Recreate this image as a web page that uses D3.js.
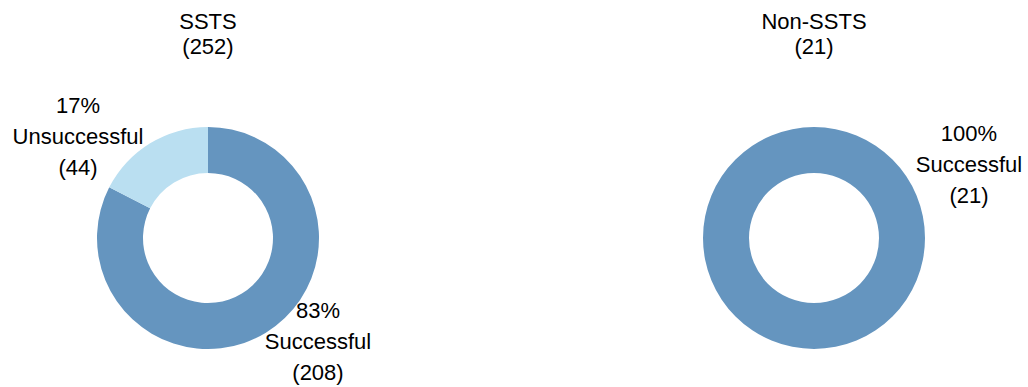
<!DOCTYPE html>
<html>
<head>
<meta charset="utf-8">
<script src="https://cdn.jsdelivr.net/npm/d3@7"></script>
<style>
  html, body { margin: 0; padding: 0; background: #fff; }
  svg text { font-family: "Liberation Sans", Arial, sans-serif; fill: #000; }
</style>
</head>
<body>
<svg id="chart" width="1028" height="387"></svg>
<script>
// Outcome counts per group
const groups = ["SSTS", "Non-SSTS"];
const groupTotals = [252, 21];
const outcomes = ["Successful", "Unsuccessful"];
const successfulCounts = [208, 21];
const unsuccessfulCounts = [44, 0];
const percentLabels = [["83%", "17%"], ["100%", null]];

const colors = { Successful: "#6595bf", Unsuccessful: "#badff1" };

const svg = d3.select("#chart");
const W = 1028;

// Donut layout
const centers = [{ x: 208, y: 238 }, { x: 814, y: 238 }];
const outerR = 111;
const innerR = 65;
const fontSize = 22;

// Label positions for each slice (relative to donut center)
const labelPos = [
  { Successful: { dx: 110, dy: 80 }, Unsuccessful: { dx: -130, dy: -125 } },
  { Successful: { dx: 155, dy: -97 } }
];

const pie = d3.pie()
  .value(d => d.value)
  .sort(null)
  .startAngle(0)
  .endAngle(2 * Math.PI);

const arc = d3.arc().innerRadius(innerR).outerRadius(outerR);

groups.forEach((g, i) => {
  const c = centers[i];
  const data = [
    { key: "Successful", value: successfulCounts[i], pct: percentLabels[i][0] },
    { key: "Unsuccessful", value: unsuccessfulCounts[i], pct: percentLabels[i][1] }
  ];
  const gEl = svg.append("g").attr("transform", `translate(${c.x},${c.y})`);

  gEl.selectAll("path")
    .data(pie(data).filter(d => d.data.value > 0))
    .join("path")
    .attr("d", arc)
    .attr("fill", d => colors[d.data.key]);

  // Group title
  const title = svg.append("text")
    .attr("x", c.x)
    .attr("y", 29)
    .attr("text-anchor", "middle")
    .style("font-size", fontSize + "px");
  title.append("tspan").attr("x", c.x).attr("y", 29).text(g);
  title.append("tspan").attr("x", c.x).attr("y", 54).text(`(${groupTotals[i]})`);

  // Slice labels
  data.filter(d => d.value > 0).forEach(d => {
    const p = labelPos[i][d.key];
    const lx = c.x + p.dx, ly = c.y + p.dy;
    const t = svg.append("text")
      .attr("text-anchor", "middle")
      .style("font-size", fontSize + "px");
    [d.pct, d.key, `(${d.value})`].forEach((line, k) => {
      t.append("tspan").attr("x", lx).attr("y", ly + k * 31).text(line);
    });
  });
});
</script>
</body>
</html>
